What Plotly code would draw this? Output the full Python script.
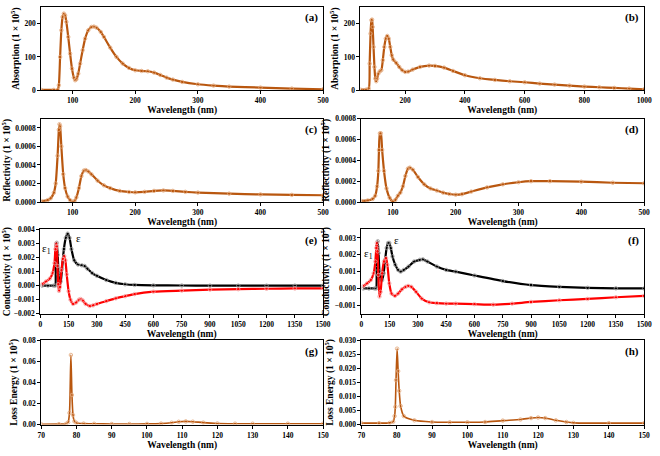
import plotly.graph_objects as go

# ---------------- data ----------------
# (a) Absorption, 50-500 nm
a_x = [50, 70, 76, 78, 80, 82, 84, 86, 88, 90, 93, 96, 99, 102, 104, 106, 109, 112, 116, 120, 125, 130, 134, 138, 145, 150, 160, 170, 180, 190, 200, 210, 220, 230, 240, 250, 260, 275, 300, 325, 350, 400, 450, 500]
a_y = [1, 1, 1, 15, 100, 180, 220, 230, 225, 205, 160, 110, 65, 38, 30, 33, 50, 80, 120, 155, 180, 190, 191, 188, 175, 160, 128, 100, 80, 67, 60, 58, 57, 53, 46, 38, 32, 25, 18, 14, 11, 8, 5, 3]

# (b) Absorption, 50-1000 nm
b_x = [50, 70, 78, 81, 84, 87, 89, 91, 94, 97, 100, 103, 106, 110, 115, 120, 125, 130, 135, 140, 145, 150, 155, 160, 170, 180, 190, 200, 210, 225, 250, 280, 300, 330, 360, 400, 450, 500, 550, 600, 650, 700, 750, 800, 850, 900, 950, 1000]
b_y = [2, 2, 5, 80, 170, 210, 212, 190, 130, 70, 35, 27, 35, 50, 57, 60, 90, 130, 155, 163, 155, 130, 105, 92, 82, 70, 60, 55, 56, 62, 70, 74, 73, 68, 58, 45, 36, 31, 27, 24, 20, 17, 14, 11, 9, 7, 5, 3]

# (c) Reflectivity, 50-500 nm
c_x = [50, 60, 65, 70, 73, 76, 78, 79, 80, 82, 85, 88, 92, 96, 100, 103, 106, 110, 114, 118, 121, 125, 130, 140, 150, 160, 175, 190, 200, 215, 230, 245, 260, 280, 300, 350, 400, 450, 500]
c_y = [0.00001, 0.00002, 0.00004, 0.0001, 0.0002, 0.0005, 0.00078, 0.00084, 0.00082, 0.0006, 0.0003, 0.00015, 0.00006, 0.00002, 0.000003, 0.00001, 0.00005, 0.00015, 0.00028, 0.00034, 0.000345, 0.00033, 0.0003, 0.00023, 0.00018, 0.00015, 0.00012, 0.000108, 0.000105, 0.00011, 0.00012, 0.000125, 0.00012, 0.00011, 0.000102, 0.00009, 0.000082, 0.000077, 0.000073]

# (d) Reflectivity, 50-500 nm
d_x = [50, 60, 68, 72, 75, 77, 78, 79.5, 81, 83, 86, 90, 95, 100, 104, 108, 112, 116, 120, 124, 127, 132, 140, 150, 160, 170, 180, 190, 200, 210, 225, 250, 275, 300, 320, 350, 400, 450, 500]
d_y = [0.00001, 0.000015, 0.00003, 0.00006, 0.00015, 0.0003, 0.0005, 0.00066, 0.00066, 0.0005, 0.0003, 0.00013, 0.00004, 0.000005, 0.00002, 0.00006, 0.00009, 0.00015, 0.00025, 0.00032, 0.00033, 0.00031, 0.00024, 0.00017, 0.00013, 0.00011, 0.00009, 0.000077, 0.00007, 0.000075, 0.0001, 0.00014, 0.00017, 0.00019, 0.0002, 0.0002, 0.000195, 0.000185, 0.00018]

# (e) Conductivity, 0-1500 nm
e_eps_x = [10, 40, 70, 79, 81, 84, 87, 92, 97, 102, 108, 115, 125, 135, 145, 155, 165, 180, 200, 220, 235, 250, 275, 300, 350, 400, 450, 500, 600, 750, 900, 1050, 1200, 1350, 1500]
e_eps_y = [0.0, 0.0, 0.0, 0.0, 0.0015, 0.0029, 0.00305, 0.0022, 0.0008, 0.0002, 0.0003, 0.0012, 0.0026, 0.0034, 0.0037, 0.0034, 0.0026, 0.0018, 0.0015, 0.00145, 0.0014, 0.0012, 0.0009, 0.0007, 0.0004, 0.0002, 0.0001, 0.00005, 0.00002, 0.00001, 0.0, 0.0, 0.0, 0.0, 0.0]
e_eps1_x = [10, 30, 50, 65, 75, 80, 84, 87, 91, 95, 99, 104, 112, 120, 127, 133, 140, 150, 160, 174, 190, 205, 214, 225, 240, 262, 280, 300, 350, 400, 450, 500, 600, 750, 900, 1050, 1200, 1350, 1500]
e_eps1_y = [0.0001, 0.0003, 0.0005, 0.0009, 0.0016, 0.0026, 0.003, 0.0028, 0.0014, 0.0001, -0.00037, -0.0001, 0.0011, 0.0019, 0.0021, 0.0018, 0.0008, -0.0004, -0.001, -0.0013, -0.0012, -0.001, -0.00095, -0.00105, -0.0013, -0.00145, -0.0014, -0.0013, -0.0011, -0.0009, -0.00075, -0.0006, -0.00043, -0.00035, -0.00028, -0.00025, -0.00022, -0.0002, -0.00019]

# (f) Conductivity, 0-1500 nm
f_eps_x = [10, 40, 70, 78, 81, 84, 87, 91, 96, 102, 110, 118, 126, 134, 142, 148, 156, 165, 180, 195, 208, 225, 250, 280, 310, 326, 350, 400, 450, 500, 600, 750, 900, 1050, 1200, 1350, 1500]
f_eps_y = [0.0, 0.0, 0.0, 0.0, 0.0012, 0.0025, 0.0028, 0.0021, 0.001, 0.0005, 0.0005, 0.0009, 0.0017, 0.0024, 0.0027, 0.0027, 0.0024, 0.0019, 0.0014, 0.0011, 0.001, 0.0011, 0.0013, 0.0016, 0.0017, 0.00173, 0.0016, 0.0013, 0.0011, 0.001, 0.00077, 0.00044, 0.0002, 0.0001, 0.00004, 0.00001, 0.0]
f_eps1_x = [10, 30, 50, 65, 74, 79, 82, 86, 90, 96, 102, 110, 120, 131, 138, 148, 160, 178, 195, 215, 235, 248, 265, 290, 320, 360, 400, 450, 500, 600, 700, 800, 900, 1050, 1200, 1350, 1500]
f_eps1_y = [0.00013, 0.0003, 0.0005, 0.0009, 0.0016, 0.0024, 0.0027, 0.0022, 0.0008, -0.00048, -0.0002, 0.0009, 0.0016, 0.0018, 0.0014, 0.0003, -0.0003, -0.00044, -0.0003, -0.00005, 0.0001, 0.00015, 0.0001, -0.0002, -0.0006, -0.00082, -0.00087, -0.0009, -0.0009, -0.00093, -0.00096, -0.0009, -0.0008, -0.0007, -0.00062, -0.00052, -0.00044]

# (g) Loss energy, 70-150 nm
g_x = [70, 75, 77, 77.6, 78.0, 78.4, 78.7, 79.0, 79.4, 80, 82, 85, 90, 95, 100, 104, 107, 109, 111, 113, 116, 120, 125, 130, 140, 150]
g_y = [0.0003, 0.0004, 0.0006, 0.002, 0.011, 0.066, 0.028, 0.009, 0.003, 0.0015, 0.0009, 0.0007, 0.0005, 0.0005, 0.0006, 0.0009, 0.0017, 0.0026, 0.003, 0.0027, 0.0018, 0.001, 0.0008, 0.0008, 0.0008, 0.0008]

# (h) Loss energy, 70-150 nm
h_x = [70, 75, 78, 79.0, 79.4, 79.6, 79.8, 80.1, 80.4, 80.7, 81.1, 82, 85, 90, 95, 100, 105, 110, 115, 118, 120, 122, 125, 128, 130, 140, 150]
h_y = [0.0005, 0.0005, 0.0006, 0.001, 0.003, 0.0063, 0.0158, 0.027, 0.019, 0.012, 0.0066, 0.003, 0.0015, 0.0009, 0.0008, 0.0008, 0.0009, 0.0014, 0.0018, 0.0023, 0.0025, 0.0023, 0.0015, 0.0009, 0.0006, 0.0005, 0.0005]

# ---------------- figure ----------------
W, H = 660, 456
ORANGE = "#B9570F"
ORANGE_L = "#E2A77A"
FONT = "Liberation Serif"

def px_x(p):
    return p / W

def px_y(p):
    return 1 - p / H

# panel boxes in pixels: (left, right, top, bottom)
boxes = [
    (38, 325, 3, 88), (363, 652, 3, 88),
    (38, 325, 117, 202), (364, 652, 117, 202),
    (37, 325, 230, 316), (364, 652, 230, 316),
    (38, 325, 343, 429), (364, 652, 343, 429),
]

fig = go.Figure()

def add_series(idx, xs, ys, color, mcolor, width=2.2):
    ax = "" if idx == 1 else str(idx)
    fig.add_trace(go.Scatter(
        x=xs, y=ys, mode="lines+markers", xaxis="x" + ax, yaxis="y" + ax,
        line=dict(color=color, width=width, shape="spline", smoothing=0.6),
        marker=dict(symbol="circle-open", size=3.5, color=mcolor, line=dict(width=0.8, color=mcolor)),
        showlegend=False, hoverinfo="skip"))

add_series(1, a_x, a_y, ORANGE, ORANGE_L)
add_series(2, b_x, b_y, ORANGE, ORANGE_L)
add_series(3, c_x, c_y, ORANGE, ORANGE_L)
add_series(4, d_x, d_y, ORANGE, ORANGE_L)
add_series(5, e_eps_x, e_eps_y, "black", "#9A9A9A")
add_series(5, e_eps1_x, e_eps1_y, "#FF0000", "#F4A0A0")
add_series(6, f_eps_x, f_eps_y, "black", "#9A9A9A")
add_series(6, f_eps1_x, f_eps1_y, "#FF0000", "#F4A0A0")
add_series(7, g_x, g_y, ORANGE, ORANGE_L, 1.6)
add_series(8, h_x, h_y, ORANGE, ORANGE_L, 1.6)

xranges = [(50, 500), (50, 1000), (50, 500), (50, 500), (0, 1500), (0, 1500), (70, 150), (70, 150)]
xdticks = [100, 200, 100, 100, 150, 150, 10, 10]
xtick0 = [0, 0, 0, 0, 0, 0, 70, 70]
yranges = [(0, 250), (0, 250), (0, 0.0009), (0, 0.0008), (-0.002, 0.004), (-0.0015, 0.0035), (0, 0.08), (0, 0.03)]
ydticks = [100, 100, 0.0002, 0.0002, 0.001, 0.001, 0.02, 0.005]
yfmts = ["d", "d", ".4f", ".4f", ".3f", ".3f", ".2f", ".3f"]
ytitles = ["Absorption (1 × 10<sup>5</sup>)", "Absorption (1 × 10<sup>5</sup>)",
           "Reflectivity (1 × 10<sup>5</sup>)", "Reflectivity (1 × 10<sup>5</sup>)",
           "Conductivity (1 × 10<sup>5</sup>)", "Conductivity (1 × 10<sup>5</sup>)",
           "Loss Energy (1 × 10<sup>5</sup>)", "Loss Energy (1 × 10<sup>5</sup>)"]
letters = ["(a)", "(b)", "(c)", "(d)", "(e)", "(f)", "(g)", "(h)"]

tickfont = dict(family=FONT, size=7.5, color="black", weight="bold")
titlefont = dict(family=FONT, size=9.5, color="black", weight="bold")

layout = dict(width=W, height=H, margin=dict(l=0, r=0, t=0, b=0),
              paper_bgcolor="white", plot_bgcolor="white", annotations=[])

for i, (l, r, t, b) in enumerate(boxes):
    n = i + 1
    ax = "" if n == 1 else str(n)
    layout["xaxis" + ax] = dict(
        domain=[px_x(l), px_x(r)], anchor="y" + ax, range=list(xranges[i]),
        tick0=xtick0[i], dtick=xdticks[i], showgrid=False, zeroline=False,
        showline=True, linecolor="black", linewidth=1, mirror=True,
        ticks="outside", ticklen=3, tickcolor="black", tickfont=tickfont,
        title=dict(text="Wavelength (nm)", font=titlefont, standoff=2))
    layout["yaxis" + ax] = dict(
        domain=[px_y(b), px_y(t)], anchor="x" + ax, range=list(yranges[i]),
        dtick=ydticks[i], tickformat=yfmts[i], showgrid=False, zeroline=False,
        showline=True, linecolor="black", linewidth=1, mirror=True,
        ticks="outside", ticklen=3, tickcolor="black", tickfont=tickfont,
        title=dict(text=ytitles[i], font=titlefont, standoff=3))
    layout["annotations"].append(dict(
        text=letters[i], xref="x" + ax + " domain", yref="y" + ax + " domain",
        x=0.988, y=0.87, xanchor="right", yanchor="middle", showarrow=False,
        font=dict(family=FONT, size=11, color="black", weight="bold")))

# epsilon labels
eps_font = dict(family=FONT, size=11, color="black")
layout["annotations"] += [
    dict(text="ε", x=202, y=0.00337, xref="x5", yref="y5", showarrow=False, font=eps_font),
    dict(text="ε<sub>1</sub>", x=35, y=0.0026, xref="x5", yref="y5", showarrow=False, font=eps_font),
    dict(text="ε", x=187, y=0.00288, xref="x6", yref="y6", showarrow=False, font=eps_font),
    dict(text="ε<sub>1</sub>", x=38, y=0.00202, xref="x6", yref="y6", showarrow=False, font=eps_font),
]

fig.update_layout(**layout)
fig.write_html("out.html")
